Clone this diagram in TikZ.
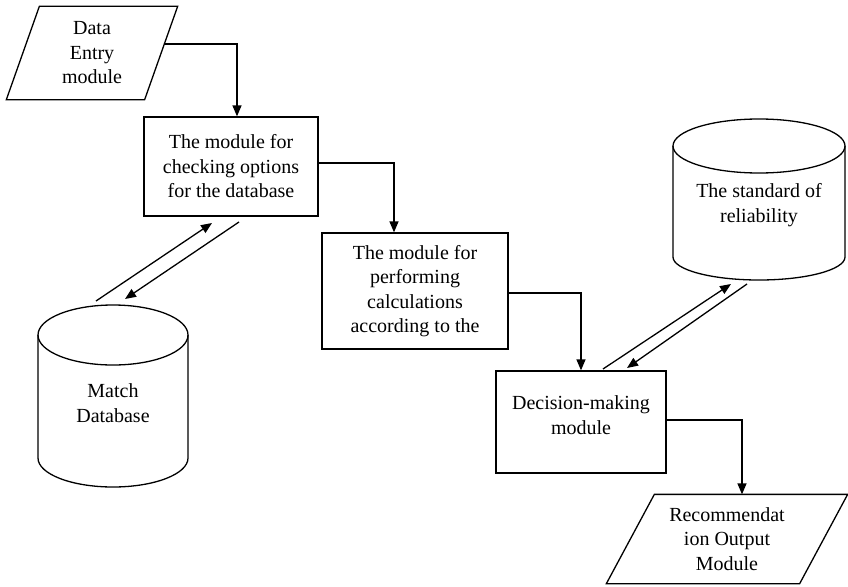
\documentclass[tikz,border=0pt]{standalone}
\usepackage{fontspec}
\setmainfont{Liberation Serif}
\usetikzlibrary{arrows.meta}
\begin{document}
\begin{tikzpicture}[x=1pt,y=-1pt,line width=1.3pt,
  txt/.style={align=center,inner sep=0pt,font=\fontsize{20}{24.5}\selectfont},
  box/.style={txt,draw,rectangle},
  ghost/.style={txt,rectangle,draw=none},
  arr/.style={-{Triangle[length=11pt,width=9pt]}}]
\useasboundingbox (0,0) rectangle (848,586);

% Data entry (parallelogram)
\node[ghost,minimum width=137,minimum height=92] (din) at (92,53) {Data\\Entry\\module};
\draw ([xshift=16.5pt]din.north west) -- ([xshift=16.5pt]din.north east)
  -- ([xshift=-16.5pt]din.south east) -- ([xshift=-16.5pt]din.south west) -- cycle;

% Boxes
\node[box,minimum width=174,minimum height=99] (chk) at (231,166.5) {The module for\\checking options\\for the database};
\node[box,minimum width=186,minimum height=116] (calc) at (415,291) {The module for\\performing\\calculations\\according to the};
\node[box,minimum width=170,minimum height=102] (dec) at (581,422) {};
\node[txt] (dect) at (581,415) {Decision-making\\module};

% Output (parallelogram)
\node[ghost,minimum width=192,minimum height=88] (out) at (727,539) {Recommendat\\ion Output\\Module};
\draw ([xshift=24pt]out.north west) -- ([xshift=24pt]out.north east)
  -- ([xshift=-24pt]out.south east) -- ([xshift=-24pt]out.south west) -- cycle;

% Match database cylinder
\node[ghost,minimum width=150,minimum height=182] (mdb) at (113,396) {};
\draw (113,335) ellipse [x radius=75pt,y radius=30pt];
\draw (38,335) -- (38,458) arc[start angle=180,end angle=360,x radius=75pt,y radius=29pt] -- (188,335);
\node[txt] (mdbt) at (113,403) {Match\\Database};

% Reliability cylinder
\node[ghost,minimum width=172,minimum height=161] (rel) at (759,199.5) {};
\draw (759,146) ellipse [x radius=86pt,y radius=27pt];
\draw (673,146) -- (673,257) arc[start angle=180,end angle=360,x radius=86pt,y radius=23pt] -- (845,146);
\node[txt] (relt) at (759,205) {The standard of\\reliability};

% Connectors
\coordinate (dinout) at (163.7,44);
\draw[arr] (dinout) -| ([xshift=6pt]chk.north);
\draw[arr] ([yshift=3.5pt]chk.east) -| ([xshift=-21pt]calc.north);
\draw[arr] ([yshift=-2pt]calc.east) -| (dec.north);
\draw[arr] ([yshift=2pt]dec.east) -| ([xshift=15pt]out.north);

\coordinate (m1) at (96,301);   \coordinate (c1) at (212,223);
\coordinate (c2) at (239,222);  \coordinate (m2) at (125,299);
\draw[arr] (m1) -- (c1);
\draw[arr] (c2) -- (m2);

\coordinate (d1) at (603,369);  \coordinate (r1) at (731,284);
\coordinate (r2) at (747,284);  \coordinate (d2) at (627,368);
\draw[arr] (d1) -- (r1);
\draw[arr] (r2) -- (d2);
\end{tikzpicture}
\end{document}
